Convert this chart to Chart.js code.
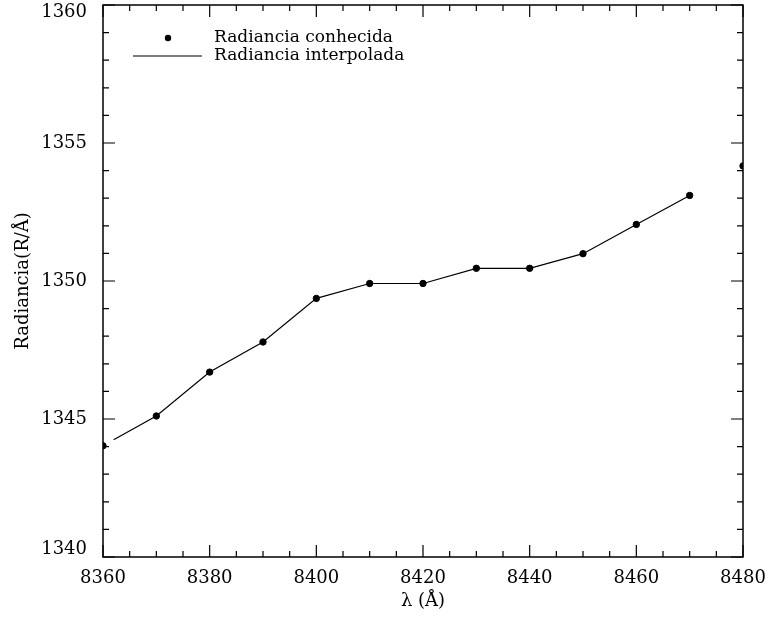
<!DOCTYPE html>
<html>
<head>
<meta charset="utf-8">
<script src="https://cdn.jsdelivr.net/npm/chart.js@4/dist/chart.umd.min.js"></script>
<style>
  html, body { margin: 0; padding: 0; background: #fff; }
</style>
</head>
<body>
<canvas id="radChart" width="770" height="617"></canvas>
<script>
// known radiance samples
const knownWave = [8360, 8370, 8380, 8390, 8400, 8410, 8420, 8430, 8440, 8450, 8460, 8470, 8480]
const knownRad = [1344.03, 1345.11, 1346.70, 1347.79, 1349.37, 1349.91, 1349.91, 1350.46, 1350.46, 1350.99, 1352.05, 1353.10, 1354.17]

// interpolated curve
const interpWave = [8362, 8370, 8380, 8390, 8400, 8410, 8420, 8430, 8440, 8450, 8460, 8470]
const interpRad = [1344.25, 1345.11, 1346.70, 1347.79, 1349.37, 1349.91, 1349.91, 1350.46, 1350.46, 1350.99, 1352.05, 1353.10]

const xRange = [8360, 8480]
const yRange = [1340, 1360]
const legendLabels = ['Radiancia conhecida', 'Radiancia interpolada']

const serif = 'DejaVu Serif'

const toXY = (xs, ys) => xs.map((x, i) => ({ x: x, y: ys[i] }))

// inward ticks on all four sides plus the frame
const frameTicks = {
  id: 'frameTicks',
  afterDraw(chart) {
    const ctx = chart.ctx
    const a = chart.chartArea
    const xs = chart.scales.x
    const ys = chart.scales.y
    ctx.save()
    ctx.strokeStyle = '#000'
    ctx.lineWidth = 1.5
    ctx.strokeRect(a.left, a.top, a.right - a.left, a.bottom - a.top)
    ctx.lineWidth = 1.2
    ctx.beginPath()
    xs.ticks.forEach(t => {
      const px = xs.getPixelForValue(t.value)
      const len = t.value % 20 === 0 ? 12 : 6
      ctx.moveTo(px, a.bottom); ctx.lineTo(px, a.bottom - len)
      ctx.moveTo(px, a.top); ctx.lineTo(px, a.top + len)
    })
    ys.ticks.forEach(t => {
      const py = ys.getPixelForValue(t.value)
      const len = t.value % 5 === 0 ? 12 : 6
      ctx.moveTo(a.left, py); ctx.lineTo(a.left + len, py)
      ctx.moveTo(a.right, py); ctx.lineTo(a.right - len, py)
    })
    ctx.stroke()
    ctx.restore()
  }
}

const insetLegend = {
  id: 'insetLegend',
  afterDraw(chart) {
    const ctx = chart.ctx
    const a = chart.chartArea
    ctx.save()
    ctx.fillStyle = '#000'
    ctx.strokeStyle = '#000'
    ctx.font = '17px "' + serif + '"'
    ctx.textBaseline = 'middle'
    ctx.beginPath()
    ctx.arc(a.left + 65, a.top + 33, 3.2, 0, Math.PI * 2)
    ctx.fill()
    ctx.fillText(legendLabels[0], a.left + 111, a.top + 33)
    ctx.lineWidth = 1.2
    ctx.beginPath()
    ctx.moveTo(a.left + 30, a.top + 51)
    ctx.lineTo(a.left + 99, a.top + 51)
    ctx.stroke()
    ctx.fillText(legendLabels[1], a.left + 111, a.top + 51)
    ctx.restore()
  }
}

new Chart(document.getElementById('radChart'), {
  type: 'scatter',
  data: {
    datasets: [{
      label: legendLabels[1],
      data: toXY(interpWave, interpRad),
      showLine: true,
      borderColor: '#000',
      borderWidth: 1.2,
      pointRadius: 0,
      clip: 0
    }, {
      label: legendLabels[0],
      data: toXY(knownWave, knownRad),
      showLine: false,
      backgroundColor: '#000',
      borderColor: '#000',
      pointRadius: 3.2,
      clip: 0
    }]
  },
  plugins: [frameTicks, insetLegend],
  options: {
    responsive: false,
    animation: false,
    layout: { padding: { top: 5, right: 27, left: 0, bottom: 0 } },
    plugins: {
      legend: { display: false },
      tooltip: { enabled: false }
    },
    scales: {
      x: {
        type: 'linear',
        min: xRange[0],
        max: xRange[1],
        afterFit: s => {
          s.height = 60
          s.paddingLeft = 0
          s.paddingRight = 0
        },
        grid: { display: false },
        border: { display: false },
        ticks: {
          stepSize: 5,
          autoSkip: false,
          maxRotation: 0,
          padding: 3,
          color: '#000',
          font: { family: serif, size: 18 },
          callback: v => (v % 20 === 0 ? String(v) : '')
        },
        title: {
          display: true,
          text: 'λ (Å)',
          color: '#000',
          font: { family: serif, size: 18 },
          padding: { top: 0, bottom: 5 }
        }
      },
      y: {
        type: 'linear',
        min: yRange[0],
        max: yRange[1],
        afterFit: s => {
          s.width = 103
          s.paddingTop = 0
          s.paddingBottom = 0
        },
        grid: { display: false },
        border: { display: false },
        ticks: {
          stepSize: 1,
          autoSkip: false,
          padding: 8,
          color: '#000',
          font: { family: serif, size: 18, lineHeight: 0.8 },
          // end labels pulled inside the frame, as in the original plot
          callback: v => {
            if (v % 5 !== 0) return ''
            if (v === yRange[1]) return ['', String(v)]
            if (v === yRange[0]) return [String(v), '']
            return String(v)
          }
        },
        title: {
          display: true,
          text: 'Radiancia(R/Å)',
          color: '#000',
          font: { family: serif, size: 18 },
          padding: { top: 13, bottom: 0 }
        }
      }
    }
  }
})
</script>
</body>
</html>
